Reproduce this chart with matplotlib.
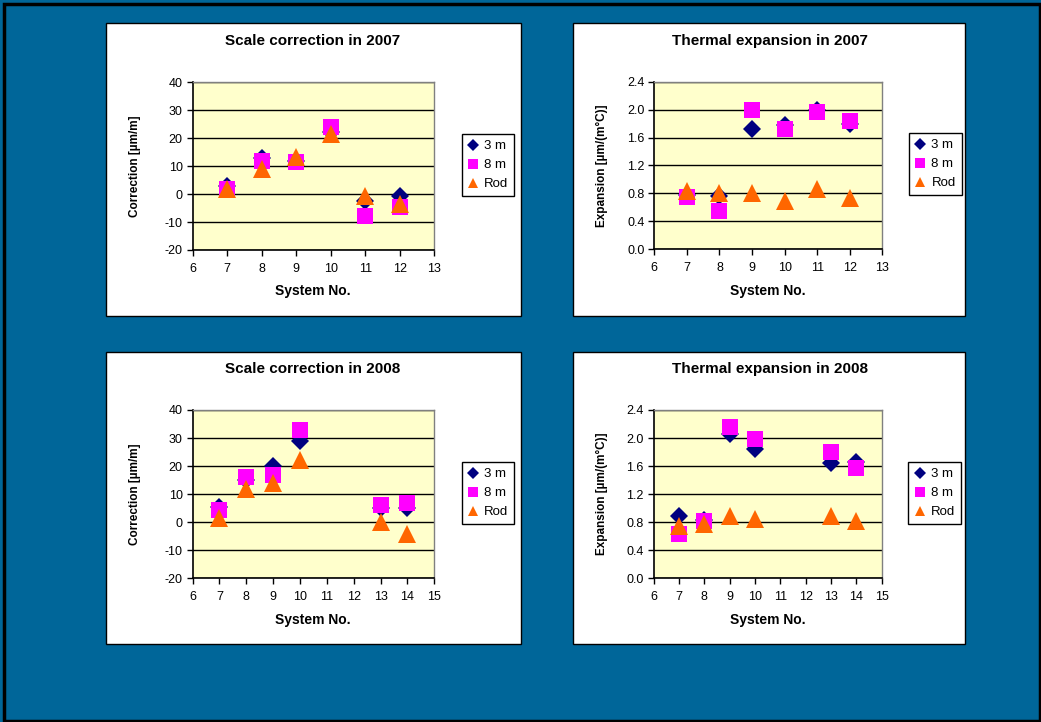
import matplotlib
matplotlib.use("Agg")
import matplotlib.pyplot as plt
from matplotlib.patches import Rectangle
from matplotlib.lines import Line2D

plt.rcParams['font.family'] = ['Liberation Sans', 'DejaVu Sans']
plt.rcParams['axes.unicode_minus'] = False

# ---------------- data ----------------
series_names = ["3 m", "8 m", "Rod"]

systems_2007 = [7, 8, 9, 10, 11, 12]
scale_2007_3m = [3, 13, 12, 22.3, -2.5, -0.7]
scale_2007_8m = [2, 11.8, 11.6, 24, -7.7, -4.7]
scale_2007_rod = [2, 9, 13.2, 21.4, -0.7, -3.7]

therm_2007_3m = [0.78, 0.77, 1.72, 1.78, 2.0, 1.8]
therm_2007_8m = [0.745, 0.55, 1.99, 1.72, 1.96, 1.84]
therm_2007_rod = [0.83, 0.81, 0.80, 0.69, 0.86, 0.74]

systems_2008 = [7, 8, 9, 10, 13, 14]
scale_2008_3m = [5.5, 15, 20.2, 29.1, 5, 5]
scale_2008_8m = [4.4, 16.2, 17, 33, 6.1, 7]
scale_2008_rod = [1.6, 11.7, 13.9, 22.2, 0, -4.3]

therm_2008_3m = [0.89, 0.83, 2.06, 1.85, 1.65, 1.66]
therm_2008_8m = [0.63, 0.82, 2.16, 1.98, 1.80, 1.57]
therm_2008_rod = [0.74, 0.77, 0.89, 0.84, 0.89, 0.82]

titles = ["Scale correction in 2007", "Thermal expansion in 2007",
          "Scale correction in 2008", "Thermal expansion in 2008"]
ylabels = ["Correction [\u00b5m/m]", "Expansion [\u00b5m/(m\u00b0C)]",
           "Correction [\u00b5m/m]", "Expansion [\u00b5m/(m\u00b0C)]"]
xlabel = "System No."

scale_yticks = [-20, -10, 0, 10, 20, 30, 40]
therm_yticks = [0.0, 0.4, 0.8, 1.2, 1.6, 2.0, 2.4]
xticks_2007 = [6, 7, 8, 9, 10, 11, 12, 13]
xticks_2008 = [6, 7, 8, 9, 10, 11, 12, 13, 14, 15]

# ---------------- figure ----------------
W, H = 1041, 722
DPI = 100
fig = plt.figure(figsize=(W / DPI, H / DPI), dpi=DPI)
BLUE = "#006699"
fig.patch.set_facecolor(BLUE)

def fx(px):
    return px / W

def fy(py):
    return 1 - py / H

# outer black frame
fig.patches.append(Rectangle((fx(4), fy(720.5)), fx(1036), (716.5) / H,
                             transform=fig.transFigure, facecolor="none",
                             edgecolor="black", linewidth=2.5, zorder=-2))

# white panels
panels_px = [(106, 23, 521, 316), (573, 23, 965, 316),
             (106, 352, 521, 644), (573, 352, 965, 644)]
for (x0, y0, x1, y1) in panels_px:
    fig.patches.append(Rectangle((fx(x0), fy(y1)), fx(x1 - x0), (y1 - y0) / H,
                                 transform=fig.transFigure, facecolor="white",
                                 edgecolor="black", linewidth=1.0, zorder=-1))

axes_px = [(192.5, 82.3, 434.3, 250), (654.3, 81.7, 882.3, 249.3),
           (192.5, 410, 434.3, 578.3), (653.5, 410, 881.7, 578.3)]
legend_px = [(461.7, 134.3), (909, 133.3), (461.7, 462.3), (908.3, 462.3)]
title_px = [(313, 41), (770, 41), (313, 369), (770, 369)]
xlabel_px = [(313, 291), (768, 291), (313, 620), (768, 620)]
ylabel_px = [(135, 166), (601.5, 166), (135, 494), (601.5, 494)]

data = [
    (systems_2007, [scale_2007_3m, scale_2007_8m, scale_2007_rod], scale_yticks, xticks_2007),
    (systems_2007, [therm_2007_3m, therm_2007_8m, therm_2007_rod], therm_yticks, xticks_2007),
    (systems_2008, [scale_2008_3m, scale_2008_8m, scale_2008_rod], scale_yticks, xticks_2008),
    (systems_2008, [therm_2008_3m, therm_2008_8m, therm_2008_rod], therm_yticks, xticks_2008),
]

styles = [
    dict(marker="D", color="#000080", ms=9.5),
    dict(marker="s", color="#FF00FF", ms=12.0),
    dict(marker="^", color="#FF6600", ms=12.5),
]

for i, (xs, ys_list, yt, xt) in enumerate(data):
    x0, y0, x1, y1 = axes_px[i]
    ax = fig.add_axes([fx(x0), fy(y1), fx(x1 - x0), (y1 - y0) / H], zorder=1)
    ax.set_facecolor("#FFFFCC")
    for ys, st, name in zip(ys_list, styles, series_names):
        ax.plot(xs, ys, linestyle="none", marker=st["marker"], color=st["color"],
                markersize=st["ms"], markeredgewidth=0, label=name, zorder=3,
                clip_on=False)
    ax.set_xlim(xt[0], xt[-1])
    ax.set_ylim(yt[0], yt[-1])
    ax.set_xticks(xt)
    ax.set_yticks(yt)
    if yt is therm_yticks:
        ax.set_yticklabels([f"{v:.1f}" for v in yt])
    ax.yaxis.grid(True, color="black", linewidth=1.0)
    ax.set_axisbelow(True)
    for s in ["top", "right"]:
        ax.spines[s].set_color("#808080")
        ax.spines[s].set_linewidth(1.0)
    for s in ["left", "bottom"]:
        ax.spines[s].set_color("black")
        ax.spines[s].set_linewidth(1.2)
    ax.tick_params(axis="both", direction="out", length=4, width=1,
                   labelsize=9, colors="black")
    ax.tick_params(axis="x", pad=5)
    ax.tick_params(axis="y", pad=3)

    # legend
    lx, ly = legend_px[i]
    handles = [Line2D([], [], linestyle="none", marker=st["marker"], color=st["color"],
                      markersize=st["ms"] * 0.6, markeredgewidth=0) for st in styles]
    leg = fig.legend(handles, series_names, loc="upper left",
                     bbox_to_anchor=(fx(lx), fy(ly)), bbox_transform=fig.transFigure,
                     frameon=True, fancybox=False, edgecolor="black", framealpha=1,
                     facecolor="white", fontsize=9.5, handlelength=0.8,
                     handletextpad=0.45, labelspacing=0.5, borderpad=0.45,
                     borderaxespad=0)
    leg.get_frame().set_linewidth(1.0)
    leg.set_zorder(2)

    tx, ty = title_px[i]
    fig.text(fx(tx), fy(ty), titles[i], ha="center", va="center",
             fontsize=11, fontweight="bold")
    xx, xy = xlabel_px[i]
    fig.text(fx(xx), fy(xy), xlabel, ha="center", va="center",
             fontsize=10, fontweight="bold")
    yx, yy = ylabel_px[i]
    fig.text(fx(yx), fy(yy), ylabels[i], ha="center", va="center",
             fontsize=8.5, fontweight="bold", rotation=90)

fig.savefig("out.png", dpi=DPI, facecolor=fig.get_facecolor())
